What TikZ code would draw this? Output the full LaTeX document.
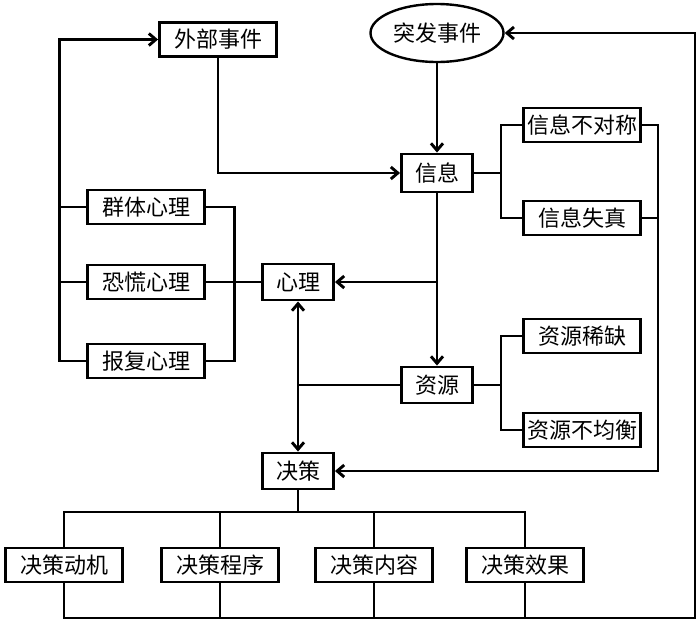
\documentclass[tikz,border=0pt]{standalone}
\usepackage{fontspec}
\newfontfamily\cjk{Noto Sans CJK SC}
\usetikzlibrary{arrows.meta, shapes.geometric}
\usetikzlibrary{positioning}

\begin{document}
\begin{tikzpicture}[x=1pt,y=-1pt,line width=2.9pt,
  box/.style={draw,font=\cjk\fontsize{22}{22}\selectfont,inner sep=0pt,minimum height=34pt},
  wide/.style={box,minimum width=117pt},
  short/.style={box,minimum width=71pt,minimum height=36pt},
  arr/.style={-{Straight Barb[length=7pt,width=12pt]}}]
\useasboundingbox (0,0) rectangle (700,625);
\node (tufa) [draw,ellipse,line width=2.4pt,inner sep=0pt,minimum width=133pt,minimum height=58pt,
  font=\cjk\fontsize{22}{22}\selectfont] at (437,33) {突发事件};
\node (waibu) [wide] at (218,39.5) {外部事件};
\node (xinxi) [short,minimum height=38pt] at (437,173) {信息};
\node (buduichen) [wide] at (582,125) {信息不对称};
\node (shizhen) [wide] at (582,218) {信息失真};
\node (qunti) [wide] at (146,207) {群体心理};
\node (konghuang) [wide] at (146,282) {恐慌心理};
\node (baofu) [wide] at (146,361) {报复心理};
\node (xinli) [short] at (298,282) {心理};
\node (ziyuan) [short] at (437,385) {资源};
\node (xique) [wide] at (582,336) {资源稀缺};
\node (bujunheng) [wide] at (582,430) {资源不均衡};
\node (juece) [short] at (298,471) {决策};
\node (dongji) [wide] at (64,565) {决策动机};
\node (chengxu) [wide] at (220,565) {决策程序};
\node (neirong) [wide] at (374,565) {决策内容};
\node (xiaoguo) [wide] at (525,565) {决策效果};

\coordinate (xb) at (501,173);
\coordinate (zb) at (501,385);
\coordinate (topbus) at (298,512);
\coordinate (lowbus) at (64,618);

\draw[arr] (tufa) -- (xinxi);
\draw[arr] (waibu.south) |- (xinxi.west);
\draw[arr] (xinxi) -- (ziyuan);
\draw[arr] (xinxi.south |- xinli) -- (xinli.east);
\draw (xinxi.east) -- (xb);
\draw (buduichen.west) -| (xb) |- (shizhen.west);
\draw (ziyuan.east) -- (zb);
\draw (xique.west) -| (zb) |- (bujunheng.west);
\draw[arr] (buduichen.east) -- ++(16,0) |- (juece.east);
\draw (shizhen.east) -- ++(16,0);
\draw[arr] (baofu.west) -- ++(-27,0) |- (waibu.west);
\draw (qunti.west) -- ++(-27,0);
\draw (konghuang.west) -- ++(-27,0);
\draw (qunti.east) -- ++(28.5,0) |- (baofu.east);
\draw (konghuang.east) -- (xinli.west);
\draw[{Straight Barb[length=7pt,width=12pt]}-{Straight Barb[length=7pt,width=12pt]}] (xinli) -- (juece);
\draw (ziyuan.west) -- (ziyuan.west -| xinli);
\draw (juece.south) -- (topbus);
\draw (dongji.north) |- (topbus) -| (xiaoguo.north);
\draw (chengxu.north) -- (chengxu.north |- topbus);
\draw (neirong.north) -- (neirong.north |- topbus);
\draw[arr] (dongji.south) -- (lowbus) -| (695,33) -- (tufa.east);
\draw (chengxu.south) -- (chengxu.south |- lowbus);
\draw (neirong.south) -- (neirong.south |- lowbus);
\draw (xiaoguo.south) -- (xiaoguo.south |- lowbus);
\end{tikzpicture}
\end{document}
